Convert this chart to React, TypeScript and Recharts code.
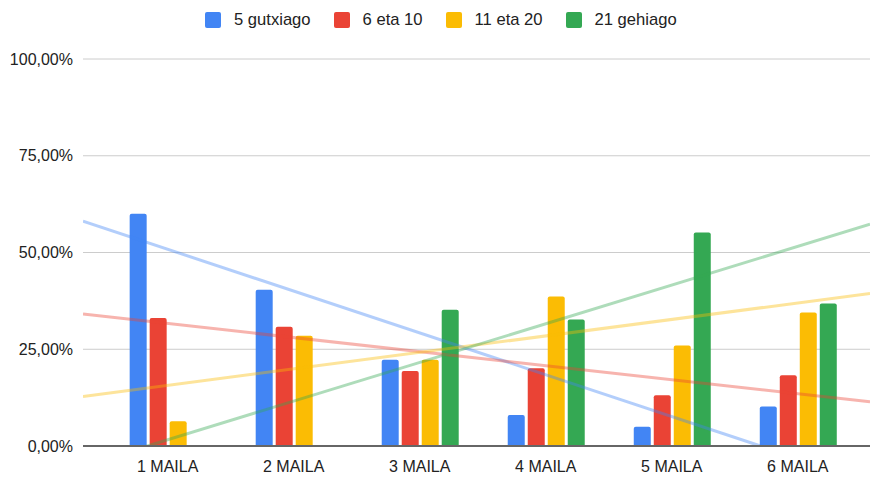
import React from 'react';
import { ComposedChart, Bar, Line, XAxis, YAxis, CartesianGrid } from 'recharts';

const categories = ['1 MAILA', '2 MAILA', '3 MAILA', '4 MAILA', '5 MAILA', '6 MAILA'];
const seriesNames = ['5 gutxiago', '6 eta 10', '11 eta 20', '21 gehiago'];
const colors = ['#4285F4', '#EA4335', '#FBBC04', '#34A853'];

const gutxiago5 = [60.0, 40.4, 22.3, 8.0, 5.0, 10.2];
const eta6_10 = [33.1, 30.8, 19.4, 20.1, 13.1, 18.3];
const eta11_20 = [6.4, 28.5, 22.3, 38.6, 26.0, 34.5];
const gehiago21 = [0, 0, 35.2, 32.7, 55.2, 36.8];

// trendline endpoints (at the plot's left and right edges)
const trendX = [-0.672, 5.573];
const trendBlue = [58.1, -9.4];
const trendRed = [34.1, 11.4];
const trendYellow = [12.8, 39.4];
const trendGreen = [-5.1, 57.3];

const yTicks = [0, 25, 50, 75, 100];

const data = categories.map((c, i) => ({
  x: i,
  s0: gutxiago5[i],
  s1: eta6_10[i],
  s2: eta11_20[i],
  s3: gehiago21[i],
}));

const trendData = trendX.map((x, i) => ({
  x,
  t0: trendBlue[i],
  t1: trendRed[i],
  t2: trendYellow[i],
  t3: trendGreen[i],
}));

const FONT = '"Liberation Sans", Arial, sans-serif';

const fmtPct = (v: number) => v.toFixed(2).replace('.', ',') + '%';

const LegendBox = () => (
  <div
    style={{
      position: 'absolute',
      top: 10,
      left: 205,
      display: 'flex',
      alignItems: 'flex-start',
      fontFamily: FONT,
      fontSize: 16.6,
      lineHeight: 'normal',
      color: '#222',
      gap: 23,
      whiteSpace: 'nowrap',
    }}
  >
    {seriesNames.map((n, i) => (
      <div key={n} style={{ display: 'flex', alignItems: 'flex-start' }}>
        <span
          style={{
            display: 'inline-block',
            width: 16,
            height: 16,
            marginTop: 2,
            borderRadius: 2,
            background: colors[i],
            marginRight: 13,
          }}
        />
        <span>{n}</span>
      </div>
    ))}
  </div>
);

export default function App() {
  return (
    <div style={{ position: 'absolute', left: 0, top: 0, width: 870, height: 478, background: '#fff' }}>
      <LegendBox />
      <ComposedChart
        width={870}
        height={478}
        data={data}
        margin={{ top: 59, right: 0, bottom: 0, left: 0 }}
        barSize={17}
        barGap={3}
      >
        <CartesianGrid horizontal vertical={false} stroke="#cccccc" />
        <XAxis
          dataKey="x"
          type="number"
          domain={[trendX[0], trendX[1]]}
          allowDataOverflow
          ticks={[0, 1, 2, 3, 4, 5]}
          tickFormatter={(v: number) => categories[v] ?? ''}
          height={32}
          tickLine={false}
          tickSize={0}
          tickMargin={15}
          axisLine={{ stroke: '#666666', strokeWidth: 2 }}
          tick={{ fill: '#222', fontSize: 16, fontFamily: FONT }}
          interval={0}
        />
        <XAxis
          xAxisId="trend"
          dataKey="x"
          type="number"
          domain={[trendX[0], trendX[1]]}
          allowDataOverflow
          hide
        />
        <YAxis
          type="number"
          domain={[0, 100]}
          allowDataOverflow
          ticks={yTicks}
          tickFormatter={fmtPct}
          width={83}
          axisLine={false}
          tickLine={false}
          tickSize={0}
          tickMargin={10}
          tick={{ fill: '#222', fontSize: 16, fontFamily: FONT }}
        />
        {['s0', 's1', 's2', 's3'].map((k, i) => (
          <Bar
            key={k}
            dataKey={k}
            fill={colors[i]}
            radius={[2, 2, 0, 0]}
            isAnimationActive={false}
          />
        ))}
        {['t0', 't1', 't2', 't3'].map((k, i) => (
          <Line
            key={k}
            xAxisId="trend"
            data={trendData}
            dataKey={k}
            stroke={colors[i]}
            strokeOpacity={0.4}
            strokeWidth={3}
            dot={false}
            activeDot={false}
            type="linear"
            isAnimationActive={false}
          />
        ))}
      </ComposedChart>
    </div>
  );
}
